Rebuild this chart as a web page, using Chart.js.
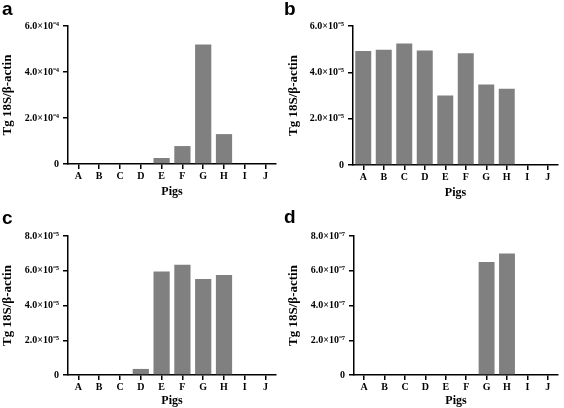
<!DOCTYPE html>
<html>
<head>
<meta charset="utf-8">
<script src="https://cdn.jsdelivr.net/npm/chart.js@4/dist/chart.umd.min.js"></script>
<style>
  body { margin: 0; background: #fff; }
  #wrap { position: relative; width: 564px; height: 408px; }
  .panel { position: absolute; width: 282px; height: 204px; }
  .letter { position: absolute; font: bold 19px "Liberation Sans", Arial, sans-serif; color: #000; line-height: 1; }
</style>
</head>
<body>
<div id="wrap">
  <div class="panel" style="left:0;top:0"><canvas id="ca" width="282" height="204"></canvas></div>
  <div class="panel" style="left:282px;top:0"><canvas id="cb" width="282" height="204"></canvas></div>
  <div class="panel" style="left:0;top:204px"><canvas id="cc" width="282" height="204"></canvas></div>
  <div class="panel" style="left:282px;top:204px"><canvas id="cd" width="282" height="204"></canvas></div>
  <div class="letter" style="left:2px;top:-1px">a</div>
  <div class="letter" style="left:284px;top:-1px">b</div>
  <div class="letter" style="left:2px;top:208px">c</div>
  <div class="letter" style="left:284px;top:207px">d</div>
</div>
<script>
const pigs = ['A', 'B', 'C', 'D', 'E', 'F', 'G', 'H', 'I', 'J'];

// values
const valuesA = [0, 0, 0, 0, 0.26e-4, 0.78e-4, 5.2e-4, 1.3e-4, 0, 0];
const valuesB = [4.92e-5, 4.98e-5, 5.25e-5, 4.94e-5, 3.0e-5, 4.82e-5, 3.48e-5, 3.29e-5, 0, 0];
const valuesC = [0, 0, 0, 0.35e-5, 5.95e-5, 6.35e-5, 5.52e-5, 5.75e-5, 0, 0];
const valuesD = [0, 0, 0, 0, 0, 0, 6.5e-7, 7.0e-7, 0, 0];

const ticksA = ['0', '2.0×10⁻⁴', '4.0×10⁻⁴', '6.0×10⁻⁴'];
const ticksB = ['0', '2.0×10⁻⁵', '4.0×10⁻⁵', '6.0×10⁻⁵'];
const ticksC = ['0', '2.0×10⁻⁵', '4.0×10⁻⁵', '6.0×10⁻⁵', '8.0×10⁻⁵'];
const ticksD = ['0', '2.0×10⁻⁷', '4.0×10⁻⁷', '6.0×10⁻⁷', '8.0×10⁻⁷'];

const serif = '"Liberation Serif", "Times New Roman", serif';

function makeChart(id, values, tickLabels, step, box) {
  const ctx = document.getElementById(id).getContext('2d');
  return new Chart(ctx, {
    type: 'bar',
    data: {
      labels: pigs,
      datasets: [{
        data: values,
        backgroundColor: '#808080',
        borderWidth: 0,
        barPercentage: 0.78,
        categoryPercentage: 1
      }]
    },
    options: {
      responsive: false,
      animation: false,
      devicePixelRatio: 1,
      layout: { padding: { top: box.top, right: 6, bottom: 0, left: 0 } },
      plugins: { legend: { display: false }, tooltip: { enabled: false } },
      scales: {
        x: {
          offset: true,
          grid: { offset: false, drawOnChartArea: false, drawTicks: true, tickLength: 5, color: '#000', lineWidth: 1.5 },
          border: { color: '#000', width: 1.5 },
          ticks: { color: '#000', padding: 1, maxRotation: 0, font: { family: serif, weight: 'bold', size: 10 } },
          title: { display: true, text: 'Pigs', color: '#000', padding: { top: 0, bottom: box.titleB },
                   font: { family: serif, weight: 'bold', size: 12 } },
          afterFit: s => { s.height = 204 - box.bottom; }
        },
        y: {
          min: 0,
          max: step * (tickLabels.length - 1),
          grid: { drawOnChartArea: false, drawTicks: true, tickLength: 5, color: '#000', lineWidth: 1.5 },
          border: { color: '#000', width: 1.5 },
          ticks: {
            stepSize: step,
            color: '#000',
            padding: 4,
            font: { family: serif, weight: 'bold', size: 10 },
            callback: (v, i) => tickLabels[i]
          },
          title: { display: true, text: 'Tg 18S/β-actin', color: '#000', padding: { top: box.titleL, bottom: 0 },
                   font: { family: serif, weight: 'bold', size: 13 } },
          afterFit: s => { s.width = box.left; }
        }
      }
    }
  });
}

makeChart('ca', valuesA, ticksA, 2e-4, { left: 68, top: 26, bottom: 164, titleB: 5, titleL: 0 });
makeChart('cb', valuesB, ticksB, 2e-5, { left: 71, top: 26, bottom: 165, titleB: 4, titleL: 4 });
makeChart('cc', valuesC, ticksC, 2e-5, { left: 68, top: 32, bottom: 171, titleB: 0, titleL: 0 });
makeChart('cd', valuesD, ticksD, 2e-7, { left: 72, top: 32, bottom: 171, titleB: 0, titleL: 4 });
</script>
</body>
</html>
